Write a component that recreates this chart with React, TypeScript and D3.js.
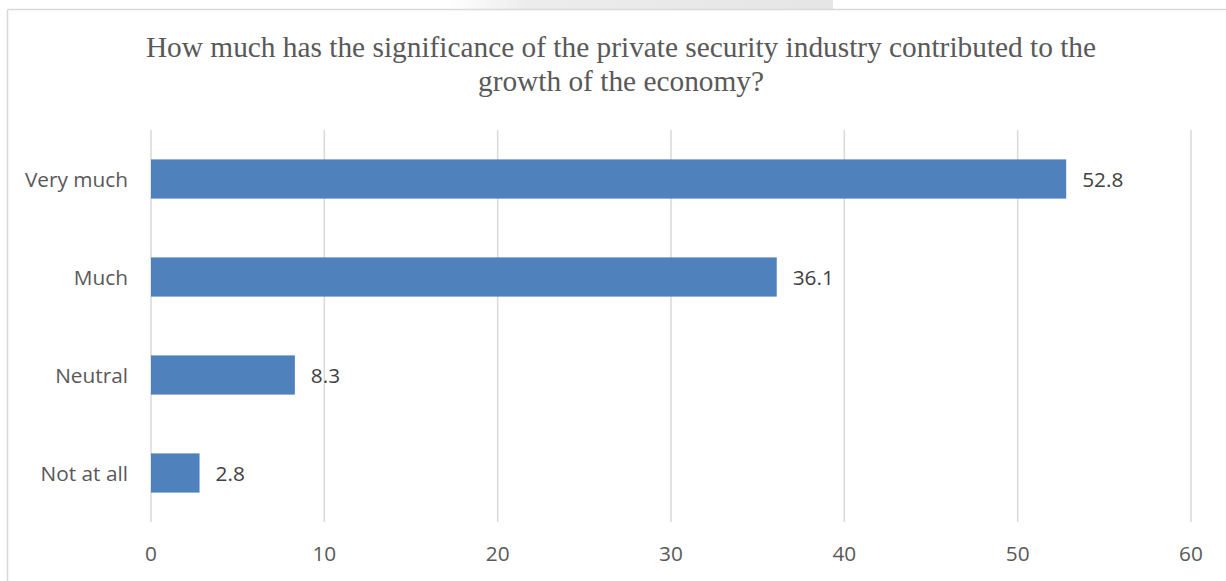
import React from "react";
import * as d3 from "d3";

const categories = ["Very much", "Much", "Neutral", "Not at all"];
const values = [52.8, 36.1, 8.3, 2.8];
const xTicks = [0, 10, 20, 30, 40, 50, 60];
const titleLines = [
  "How much has the significance of the private security industry contributed to the",
  "growth of the economy?",
];

const W = 1226;
const H = 581;
const left = 151;
const right = 1191;
const top = 130;
const bottom = 522;
const labelFont = "'Open Sans', 'Noto Sans', sans-serif";
const textColor = "#595959";
const fs = 20.8;

export default function App() {
  const x = d3.scaleLinear().domain([0, 60]).range([left, right]);
  const y = d3
    .scaleBand<string>()
    .domain(categories)
    .range([top, bottom])
    .paddingInner(0.6)
    .paddingOuter(0.3);

  return (
    <svg
      width={W}
      height={H}
      style={{ position: "absolute", left: 0, top: 0, display: "block", background: "#fff" }}
    >
      <defs>
        <linearGradient id="wm" x1="0" x2="1" y1="0" y2="0">
          <stop offset="0" stopColor="#ffffff" />
          <stop offset="0.2" stopColor="#ececec" />
          <stop offset="1" stopColor="#e6e6e6" />
        </linearGradient>
      </defs>
      <rect x={450} y={0} width={383} height={9} fill="url(#wm)" />
      {/* chart frame */}
      <line x1={7.5} x2={W} y1={9.5} y2={9.5} stroke="#d9d9d9" strokeWidth={1.5} />
      <line x1={7.5} x2={7.5} y1={9.5} y2={H} stroke="#d9d9d9" strokeWidth={1.5} />

      {/* title */}
      {titleLines.map((t, i) => (
        <text
          key={i}
          x={621}
          y={57 + i * 34}
          textAnchor="middle"
          fontFamily="'Liberation Serif', 'Times New Roman', serif"
          fontSize={29.35}
          fill={textColor}
        >
          {t}
        </text>
      ))}

      {/* gridlines */}
      {xTicks.map((t) => (
        <line
          key={t}
          x1={x(t)}
          x2={x(t)}
          y1={top}
          y2={bottom}
          stroke="#d9d9d9"
          strokeWidth={1.5}
        />
      ))}

      {/* tick labels */}
      {xTicks.map((t) => (
        <text
          key={"l" + t}
          x={x(t)}
          y={553}
          textAnchor="middle"
          dominantBaseline="central"
          fontFamily={labelFont}
          fontSize={fs}
          fill={textColor}
        >
          {t}
        </text>
      ))}

      {/* bars */}
      {categories.map((c, i) => {
        const by = y(c)!;
        const bh = y.bandwidth();
        return (
          <g key={c}>
            <rect x={x(0)} y={by} width={x(values[i]) - x(0)} height={bh} fill="#4F81BD" />
            <text
              x={x(values[i]) + 16}
              y={by + bh / 2}
              dominantBaseline="central"
              fontFamily={labelFont}
              fontSize={fs}
              fill="#404040"
            >
              {values[i]}
            </text>
            <text
              x={128}
              y={by + bh / 2}
              textAnchor="end"
              dominantBaseline="central"
              fontFamily={labelFont}
              fontSize={fs}
              fill={textColor}
            >
              {c}
            </text>
          </g>
        );
      })}
    </svg>
  );
}
